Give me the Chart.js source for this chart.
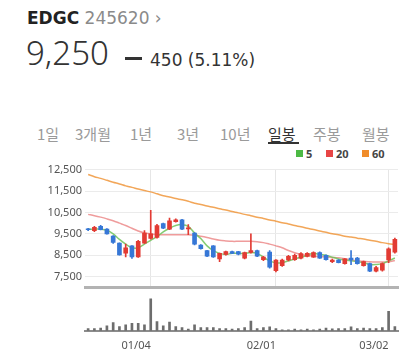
<!DOCTYPE html>
<html lang="ko">
<head>
<meta charset="utf-8">
<title>EDGC 245620</title>
<script src="https://cdn.jsdelivr.net/npm/chart.js@4.4.1/dist/chart.umd.min.js"></script>
<style>
  html, body { margin: 0; padding: 0; background: #fff; }
  body { width: 407px; height: 357px; position: relative; overflow: hidden; font-family: "DejaVu Sans", sans-serif; color: #333; }
  .abs { position: absolute; white-space: nowrap; }
  #name { left: 27px; top: 10px; font-size: 17px; line-height: 17px; }
  #name b { color: #222; }
  #name .code { color: #8a8a8a; }
  #price { left: 26px; top: 36px; font-family: "Noto Sans", sans-serif; font-weight: 300; font-size: 33px; line-height: 33px; color: #333; }
  #flat { left: 125px; top: 57px; width: 17px; height: 3px; background: #333; }
  #diff { left: 150px; top: 52px; font-size: 17px; line-height: 17px; color: #333; }
  .tab { top: 126px; font-family: "Noto Sans CJK KR", sans-serif; font-size: 15px; line-height: 15px; color: #9a9a9a; }
  .tab.on { color: #333; }
  #uline { left: 268px; top: 142px; width: 31px; height: 2px; background: #333; }
  .leg { top: 148px; height: 11px; display: flex; align-items: center; font-family: "Noto Sans", sans-serif; font-weight: bold; font-size: 11px; color: #444; }
  .sw { display: inline-block; width: 7px; height: 7px; margin-right: 3px; }
  canvas { position: absolute; left: 0; }
  #cPrice { top: 160px; }
  #cVol { top: 297px; }
</style>
</head>
<body>
<div id="name" class="abs"><b>EDGC</b> <span class="code">245620 ›</span></div>
<div id="price" class="abs">9,250</div>
<div id="flat" class="abs"></div>
<div id="diff" class="abs">450 (5.11%)</div>

<div class="abs tab" style="left:37px">1일</div>
<div class="abs tab" style="left:75px">3개월</div>
<div class="abs tab" style="left:130px">1년</div>
<div class="abs tab" style="left:177px">3년</div>
<div class="abs tab" style="left:220px">10년</div>
<div class="abs tab on" style="left:268px">일봉</div>
<div class="abs tab" style="left:313px">주봉</div>
<div class="abs tab" style="left:362px">월봉</div>
<div id="uline" class="abs"></div>

<div class="abs leg" style="left:296px"><span class="sw" style="background:#4cb944"></span>5</div>
<div class="abs leg" style="left:326px"><span class="sw" style="background:#e84545"></span>20</div>
<div class="abs leg" style="left:362px"><span class="sw" style="background:#f08c2a"></span>60</div>

<canvas id="cPrice" width="407" height="137"></canvas>
<canvas id="cVol" width="407" height="66"></canvas>

<script>
// trading days shown on the daily chart
const DATES = [
  "12/16", "12/17", "12/18", "12/21", "12/22", "12/23", "12/24", "12/28", "12/29", "12/30",
  "01/04", "01/05", "01/06", "01/07", "01/08", "01/11", "01/12", "01/13", "01/14", "01/15",
  "01/18", "01/19", "01/20", "01/21", "01/22", "01/25", "01/26", "01/27", "01/28", "01/29",
  "02/01", "02/02", "02/03", "02/04", "02/05", "02/08", "02/09", "02/10", "02/15", "02/16",
  "02/17", "02/18", "02/19", "02/22", "02/23", "02/24", "02/25", "02/26", "03/02", "03/03"
];
const TICK_DATES = ["01/04", "02/01", "03/02"];
const PRICE_TICKS = [7500, 8500, 9500, 10500, 11500, 12500];

const OPEN = [9720, 9650, 9850, 9720, 9400, 9070, 8600, 8940, 8420, 9070,
  9290, 9330, 9980, 9720, 10070, 10150, 9730, 9540, 8980, 8720,
  8940, 8330, 8540, 8670, 8670, 8370, 8630, 8720, 8290, 8650,
  7780, 8020, 8280, 8300, 8370, 8450, 8410, 8630, 8500, 8200,
  8280, 8110, 8370, 8370, 8020, 8110, 7760, 7800, 8280, 8650];
const CLOSE = [9690, 9800, 9700, 9500, 9100, 8520, 8850, 8420, 9150, 9540,
  9500, 9890, 9760, 10110, 10150, 9720, 9780, 9020, 8810, 8460,
  8420, 8590, 8670, 8590, 8550, 8630, 8720, 8460, 8410, 7950,
  8280, 8280, 8450, 8500, 8580, 8590, 8630, 8370, 8290, 8280,
  8160, 8330, 8280, 8110, 8200, 7760, 7930, 8110, 8800, 9250];
const HIGH = [9760, 9850, 9900, 9750, 9420, 9080, 9020, 8950, 9200, 9650,
  10600, 9950, 10000, 10240, 10200, 10180, 9930, 9560, 9000, 8730,
  8950, 8600, 8700, 8700, 8680, 8650, 9500, 8740, 8450, 8720,
  8300, 8320, 8500, 8550, 8620, 8620, 8660, 8660, 8520, 8320,
  8300, 8350, 8720, 8400, 8230, 8130, 7980, 8150, 8850, 9300];
const LOW = [9650, 9600, 9680, 9480, 9050, 8500, 8420, 8350, 8400, 9050,
  9250, 9300, 9740, 9700, 10050, 9700, 9460, 8980, 8780, 8440,
  8400, 8200, 8500, 8570, 8520, 8330, 8600, 8440, 8250, 7900,
  7720, 7980, 8240, 8260, 8330, 8420, 8400, 8350, 8270, 8150,
  8140, 8080, 8060, 8080, 7990, 7740, 7720, 7760, 8150, 8600];

const MA5 = [9720, 9720, 9720, 9670, 9500, 9240, 9020, 8850, 8850, 9020,
  9200, 9370, 9590, 9760, 9890, 9930, 9850, 9540, 9280, 8940,
  8720, 8590, 8540, 8590, 8590, 8590, 8630, 8590, 8410, 8240,
  8150, 8150, 8240, 8330, 8410, 8500, 8590, 8540, 8500, 8410,
  8330, 8280, 8240, 8200, 8150, 8070, 8070, 8110, 8240, 8370];
const MA20 = [10410, 10350, 10280, 10200, 10110, 10000, 9890, 9760, 9630, 9540,
  9500, 9460, 9460, 9460, 9460, 9460, 9460, 9440, 9390, 9330,
  9260, 9200, 9170, 9150, 9150, 9150, 9150, 9130, 9090, 9020,
  8940, 8850, 8720, 8620, 8540, 8490, 8460, 8440, 8420, 8400,
  8380, 8340, 8280, 8240, 8220, 8200, 8190, 8190, 8200, 8260];
const MA60 = [12270, 12170, 12090, 12000, 11910, 11830, 11740, 11670, 11590, 11520,
  11460, 11370, 11280, 11220, 11150, 11090, 11020, 10930, 10870, 10800,
  10740, 10670, 10610, 10540, 10480, 10410, 10350, 10280, 10220, 10150,
  10090, 10020, 9960, 9890, 9830, 9760, 9700, 9630, 9570, 9500,
  9460, 9390, 9350, 9300, 9260, 9200, 9150, 9090, 9040, 9000];

// volume, thousand shares
const VOLUME = [230, 230, 270, 500, 830, 430, 600, 770, 770, 600,
  3270, 930, 500, 900, 430, 330, 170, 600, 330, 330,
  330, 230, 230, 170, 230, 330, 1000, 230, 330, 400,
  230, 100, 100, 170, 100, 170, 100, 170, 270, 200,
  230, 230, 400, 230, 270, 230, 230, 330, 2000, 430];

const UP = "#e23b33";
const DOWN = "#3677d6";
const candleColors = OPEN.map((o, i) => CLOSE[i] >= o ? UP : DOWN);

const isTick = i => TICK_DATES.includes(DATES[i]);
const fixAxisWidth = scale => { scale.width = 85; };
const tickFont = { family: "Noto Sans", size: 11 };

function maLine(data, color, order) {
  return {
    type: "line",
    data,
    borderColor: color,
    borderWidth: 1.5,
    pointRadius: 0,
    tension: 0.35,
    order
  };
}

new Chart(document.getElementById("cPrice"), {
  data: {
    labels: DATES,
    datasets: [
      {
        type: "bar",
        data: OPEN.map((o, i) => [o, CLOSE[i]]),
        backgroundColor: candleColors,
        barThickness: 4,
        minBarLength: 1,
        grouped: false,
        order: 0
      },
      {
        type: "bar",
        data: LOW.map((l, i) => [l, HIGH[i]]),
        backgroundColor: candleColors,
        barThickness: 1,
        grouped: false,
        order: 1
      },
      maLine(MA5, "rgba(110,195,90,0.85)", 2),
      maLine(MA20, "rgba(228,90,90,0.6)", 3),
      maLine(MA60, "rgba(240,150,60,0.85)", 4)
    ]
  },
  options: {
    responsive: false,
    animation: false,
    layout: { padding: { top: 8, bottom: 3, left: 0, right: 9 } },
    plugins: { legend: { display: false }, tooltip: { enabled: false } },
    scales: {
      x: {
        type: "category",
        offset: true,
        ticks: { display: false },
        grid: {
          offset: false,
          drawTicks: false,
          color: c => isTick(c.index) ? "#e6e6e6" : "rgba(0,0,0,0)"
        },
        border: { display: true, width: 3, color: "#b3b3b3" }
      },
      y: {
        min: 7000,
        max: 12500,
        afterFit: fixAxisWidth,
        afterBuildTicks: s => { s.ticks = PRICE_TICKS.map(v => ({ value: v })); },
        grid: { drawTicks: false, color: "#ebebeb" },
        border: { display: false },
        ticks: {
          padding: 3,
          color: "#555",
          font: tickFont,
          callback: v => v.toLocaleString("en-US")
        }
      }
    }
  }
});

new Chart(document.getElementById("cVol"), {
  type: "bar",
  data: {
    labels: DATES,
    datasets: [{ data: VOLUME, backgroundColor: "#6d6d6d", barThickness: 2 }]
  },
  options: {
    responsive: false,
    animation: false,
    layout: { padding: { top: 1, bottom: 3, left: 0, right: 9 } },
    plugins: { legend: { display: false }, tooltip: { enabled: false } },
    scales: {
      x: {
        offset: true,
        grid: { display: false, drawTicks: false },
        border: { display: true, width: 2, color: "#8c8c8c" },
        ticks: {
          autoSkip: false,
          maxRotation: 0,
          align: "end",
          padding: 8,
          color: "#555",
          font: tickFont,
          callback: (v, i) => isTick(i) ? DATES[i] : null
        }
      },
      y: {
        min: 0,
        max: 3350,
        afterFit: fixAxisWidth,
        ticks: { display: false },
        grid: { display: false },
        border: { display: false }
      }
    }
  }
});
</script>
</body>
</html>
